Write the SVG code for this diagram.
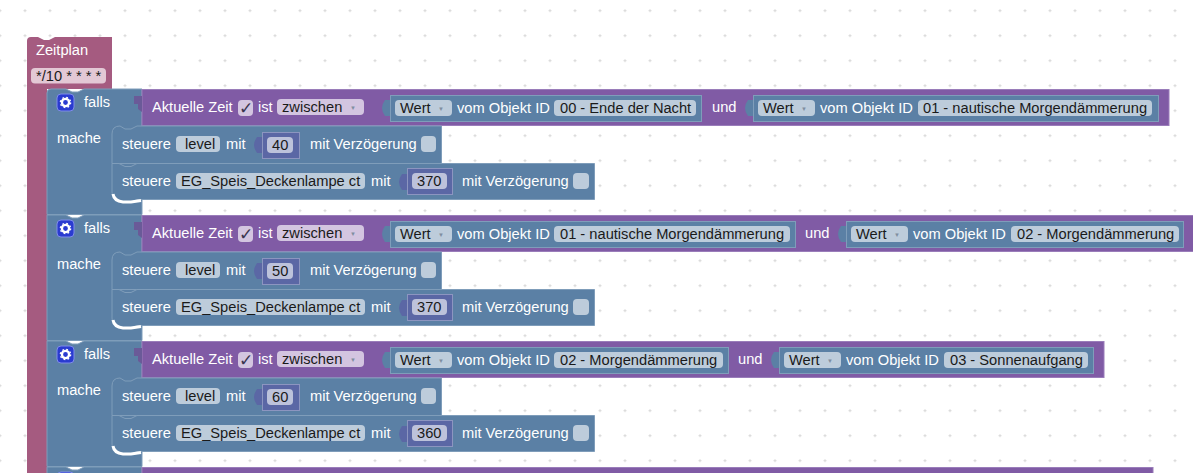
<svg xmlns="http://www.w3.org/2000/svg" width="1193" height="473" viewBox="0 0 1193 473">
<style>
text{font-family:"Liberation Sans",Arial,sans-serif;font-size:14.67px;fill:#fff;white-space:pre}
text.d{fill:#1a1a1a}
text.a{font-size:6px;fill:#7f8ea0}
text.c{font-size:17px;fill:#3a3550;font-family:"DejaVu Sans",sans-serif}
.pk{fill:#a55b80}.bl{fill:#5b80a5;stroke:#7f9dba;stroke-width:1}.pu{fill:#805ba5;stroke:#9a7dba;stroke-width:1}.ma{fill:#5b67a5;stroke:#8c95c0;stroke-width:1}
.fb{fill:#bdccdb}.fp{fill:#d3c5e0}.fm{fill:#bdc2db}.fr{fill:#e3c8d5}
.tb{fill:#5b80a5}.tp{fill:#6a5a98}.tm{fill:#5b67a5}
.w{fill:none;stroke:#fff;stroke-width:3}
</style>
<defs>
<pattern id="grid" x="-12.5" y="-1.8" width="25" height="25" patternUnits="userSpaceOnUse">
<path d="M11 12.5h3M12.5 11v3" stroke="#d8d8d8" stroke-width="1" fill="none"/>
</pattern>
<g id="gear"><rect x="0" y="0" width="17" height="17" rx="4" fill="#2a3bd0" stroke="#7f8ce8"/><circle cx="8.5" cy="8.5" r="3.6" fill="none" stroke="#fff" stroke-width="2.4"/><circle cx="8.5" cy="8.5" r="5.2" fill="none" stroke="#fff" stroke-width="1.2" stroke-dasharray="1.8 2.3"/></g>
</defs>
<rect width="1193" height="473" fill="#fff"/>
<rect width="1193" height="473" fill="url(#grid)"/>

<g id="zeitplan">
<path class="pk" d="M27 473V41Q27 37 31 37H38L44 40H49L55 37H112V89H47V473Z"/>
<text x="36" y="55">Zeitplan</text>
<rect class="fr" x="31" y="68" width="75" height="15.500" rx="4"/>
<text class="d" x="36" y="81">*/10 * * * *</text>
</g>

<g id="falls-1">
<path class="bl" d="M47 214.500V93Q47 89 51 89H66L72 92H78L84 89H142V214.500Z"/>
<use href="#gear" x="57" y="94"/>
<text x="84" y="107">falls</text>
<text x="57" y="143">mache</text>
<rect class="pu" x="142" y="89.500" width="1027" height="36"/>
<path class="tp" d="M142 96H134V104H138V109L142 112Z"/>
<text x="152" y="112">Aktuelle Zeit</text>
<rect class="fp" x="238" y="100" width="15" height="16" rx="4"/><text class="c" x="239" y="114">✓</text>
<text x="258" y="112">ist</text>
<rect class="fp" x="277" y="99" width="87" height="16" rx="4"/><text class="d" x="282" y="112">zwischen</text><text class="a" x="350" y="110">▼</text>
<path class="tb" d="M390 100H385Q382 104 382 108Q382 112 385 116H390Z"/>
<rect class="bl" x="390.500" y="95.500" width="311" height="26"/>
<rect class="fb" x="395" y="100" width="57" height="16" rx="4"/><text class="d" x="400" y="113">Wert</text><text class="a" x="438" y="111">▼</text>
<text x="457" y="113">vom Objekt ID</text>
<rect class="fb" x="554" y="100" width="142" height="16" rx="4"/><text class="d" x="560" y="113">00 - Ende der Nacht</text>
<text x="712" y="112">und</text>
<path class="tb" d="M753 100H748Q745 104 745 108Q745 112 748 116H753Z"/>
<rect class="bl" x="753.500" y="95.500" width="405" height="26"/>
<rect class="fb" x="758" y="100" width="57" height="16" rx="4"/><text class="d" x="763" y="113">Wert</text><text class="a" x="801" y="111">▼</text>
<text x="820" y="113">vom Objekt ID</text>
<rect class="fb" x="918" y="100" width="234" height="16" rx="4"/><text class="d" x="923" y="113">01 - nautische Morgendämmerung</text>
<path class="bl" d="M112 134Q112 126 120 126L125 129H131L137 126H441.500V163.500H112Z"/>
<text x="122" y="149">steuere</text>
<rect class="fb" x="176" y="136" width="44" height="16" rx="4"/><text class="d" x="185" y="149">level</text>
<text x="226" y="149">mit</text>
<path class="tm" d="M262 137H257Q254 141 254 145Q254 149 257 153H262Z"/>
<rect class="ma" x="262.500" y="132.500" width="37" height="26"/>
<rect class="fm" x="267" y="137" width="26" height="16" rx="4"/><text class="d" x="272" y="150">40</text>
<text x="310" y="149">mit Verzögerung</text>
<rect class="fb" x="421" y="136" width="15" height="16" rx="4"/>
<path class="bl" d="M112 163.500H119L125 166.500H131L137 163.500H594.500V199.500H137L131 202.500H125L119 199.500Q112 199.500 112 192Z"/>
<path class="w" d="M113 194Q114 201 123 202H131L141 200.500"/>
<text x="122" y="186">steuere</text>
<rect class="fb" x="176" y="173" width="189" height="16" rx="4"/><text class="d" x="181" y="186">EG_Speis_Deckenlampe ct</text>
<text x="371" y="186">mit</text>
<path class="tm" d="M407 174H402Q399 178 399 182Q399 186 402 190H407Z"/>
<rect class="ma" x="407.500" y="168.500" width="45" height="26"/>
<rect class="fm" x="412" y="173" width="35" height="16" rx="4"/><text class="d" x="417" y="186">370</text>
<text x="462" y="186">mit Verzögerung</text>
<rect class="fb" x="573" y="173" width="16" height="16" rx="4"/>
</g>

<g id="falls-2">
<path class="bl" d="M47 340.500V215H66L72 218H78L84 215H142V340.500Z"/>
<use href="#gear" x="57" y="220"/>
<text x="84" y="233">falls</text>
<text x="57" y="269">mache</text>
<rect class="pu" x="142" y="215.500" width="1052" height="36"/>
<path class="tp" d="M142 222H134V230H138V235L142 238Z"/>
<text x="152" y="238">Aktuelle Zeit</text>
<rect class="fp" x="238" y="226" width="15" height="16" rx="4"/><text class="c" x="239" y="240">✓</text>
<text x="258" y="238">ist</text>
<rect class="fp" x="277" y="225" width="87" height="16" rx="4"/><text class="d" x="282" y="238">zwischen</text><text class="a" x="350" y="236">▼</text>
<path class="tb" d="M390 226H385Q382 230 382 234Q382 238 385 242H390Z"/>
<rect class="bl" x="390.500" y="221.500" width="405" height="26"/>
<rect class="fb" x="395" y="226" width="57" height="16" rx="4"/><text class="d" x="400" y="239">Wert</text><text class="a" x="438" y="237">▼</text>
<text x="457" y="239">vom Objekt ID</text>
<rect class="fb" x="554" y="226" width="236" height="16" rx="4"/><text class="d" x="560" y="239">01 - nautische Morgendämmerung</text>
<text x="805" y="238">und</text>
<path class="tb" d="M846 226H841Q838 230 838 234Q838 238 841 242H846Z"/>
<rect class="bl" x="846.500" y="221.500" width="337" height="26"/>
<rect class="fb" x="851" y="226" width="57" height="16" rx="4"/><text class="d" x="856" y="239">Wert</text><text class="a" x="894" y="237">▼</text>
<text x="913" y="239">vom Objekt ID</text>
<rect class="fb" x="1011" y="226" width="168" height="16" rx="4"/><text class="d" x="1017" y="239">02 - Morgendämmerung</text>
<path class="bl" d="M112 260Q112 252 120 252L125 255H131L137 252H441.500V289.500H112Z"/>
<text x="122" y="275">steuere</text>
<rect class="fb" x="176" y="262" width="44" height="16" rx="4"/><text class="d" x="185" y="275">level</text>
<text x="226" y="275">mit</text>
<path class="tm" d="M262 263H257Q254 267 254 271Q254 275 257 279H262Z"/>
<rect class="ma" x="262.500" y="258.500" width="37" height="26"/>
<rect class="fm" x="267" y="263" width="26" height="16" rx="4"/><text class="d" x="272" y="276">50</text>
<text x="310" y="275">mit Verzögerung</text>
<rect class="fb" x="421" y="262" width="15" height="16" rx="4"/>
<path class="bl" d="M112 289.500H119L125 292.500H131L137 289.500H594.500V325.500H137L131 328.500H125L119 325.500Q112 325.500 112 318Z"/>
<path class="w" d="M113 320Q114 327 123 328H131L141 326.500"/>
<text x="122" y="312">steuere</text>
<rect class="fb" x="176" y="299" width="189" height="16" rx="4"/><text class="d" x="181" y="312">EG_Speis_Deckenlampe ct</text>
<text x="371" y="312">mit</text>
<path class="tm" d="M407 300H402Q399 304 399 308Q399 312 402 316H407Z"/>
<rect class="ma" x="407.500" y="294.500" width="45" height="26"/>
<rect class="fm" x="412" y="299" width="35" height="16" rx="4"/><text class="d" x="417" y="312">370</text>
<text x="462" y="312">mit Verzögerung</text>
<rect class="fb" x="573" y="299" width="16" height="16" rx="4"/>
</g>

<g id="falls-3">
<path class="bl" d="M47 466.500V341H66L72 344H78L84 341H142V466.500Z"/>
<use href="#gear" x="57" y="346"/>
<text x="84" y="359">falls</text>
<text x="57" y="395">mache</text>
<rect class="pu" x="142" y="341.500" width="962" height="36"/>
<path class="tp" d="M142 348H134V356H138V361L142 364Z"/>
<text x="152" y="364">Aktuelle Zeit</text>
<rect class="fp" x="238" y="352" width="15" height="16" rx="4"/><text class="c" x="239" y="366">✓</text>
<text x="258" y="364">ist</text>
<rect class="fp" x="277" y="351" width="87" height="16" rx="4"/><text class="d" x="282" y="364">zwischen</text><text class="a" x="350" y="362">▼</text>
<path class="tb" d="M390 352H385Q382 356 382 360Q382 364 385 368H390Z"/>
<rect class="bl" x="390.500" y="347.500" width="338" height="26"/>
<rect class="fb" x="395" y="352" width="57" height="16" rx="4"/><text class="d" x="400" y="365">Wert</text><text class="a" x="438" y="363">▼</text>
<text x="457" y="365">vom Objekt ID</text>
<rect class="fb" x="554" y="352" width="169" height="16" rx="4"/><text class="d" x="560" y="365">02 - Morgendämmerung</text>
<text x="738" y="364">und</text>
<path class="tb" d="M779 352H774Q771 356 771 360Q771 364 774 368H779Z"/>
<rect class="bl" x="779.500" y="347.500" width="314" height="26"/>
<rect class="fb" x="784" y="352" width="57" height="16" rx="4"/><text class="d" x="789" y="365">Wert</text><text class="a" x="827" y="363">▼</text>
<text x="846" y="365">vom Objekt ID</text>
<rect class="fb" x="944" y="352" width="144" height="16" rx="4"/><text class="d" x="950" y="365">03 - Sonnenaufgang</text>
<path class="bl" d="M112 386Q112 378 120 378L125 381H131L137 378H441.500V415.500H112Z"/>
<text x="122" y="401">steuere</text>
<rect class="fb" x="176" y="388" width="44" height="16" rx="4"/><text class="d" x="185" y="401">level</text>
<text x="226" y="401">mit</text>
<path class="tm" d="M262 389H257Q254 393 254 397Q254 401 257 405H262Z"/>
<rect class="ma" x="262.500" y="384.500" width="37" height="26"/>
<rect class="fm" x="267" y="389" width="26" height="16" rx="4"/><text class="d" x="272" y="402">60</text>
<text x="310" y="401">mit Verzögerung</text>
<rect class="fb" x="421" y="388" width="15" height="16" rx="4"/>
<path class="bl" d="M112 415.500H119L125 418.500H131L137 415.500H594.500V451.500H137L131 454.500H125L119 451.500Q112 451.500 112 444Z"/>
<path class="w" d="M113 446Q114 453 123 454H131L141 452.500"/>
<text x="122" y="438">steuere</text>
<rect class="fb" x="176" y="425" width="189" height="16" rx="4"/><text class="d" x="181" y="438">EG_Speis_Deckenlampe ct</text>
<text x="371" y="438">mit</text>
<path class="tm" d="M407 426H402Q399 430 399 434Q399 438 402 442H407Z"/>
<rect class="ma" x="407.500" y="420.500" width="45" height="26"/>
<rect class="fm" x="412" y="425" width="35" height="16" rx="4"/><text class="d" x="417" y="438">360</text>
<text x="462" y="438">mit Verzögerung</text>
<rect class="fb" x="573" y="425" width="16" height="16" rx="4"/>
</g>

<g id="falls-4">
<path class="bl" d="M47 480V467H66L72 470H78L84 467H142V480Z"/>
<use href="#gear" x="57" y="472"/>
<rect class="pu" x="142" y="467.500" width="1011" height="20"/>
</g>

<g id="connectors"></g>
</svg>
